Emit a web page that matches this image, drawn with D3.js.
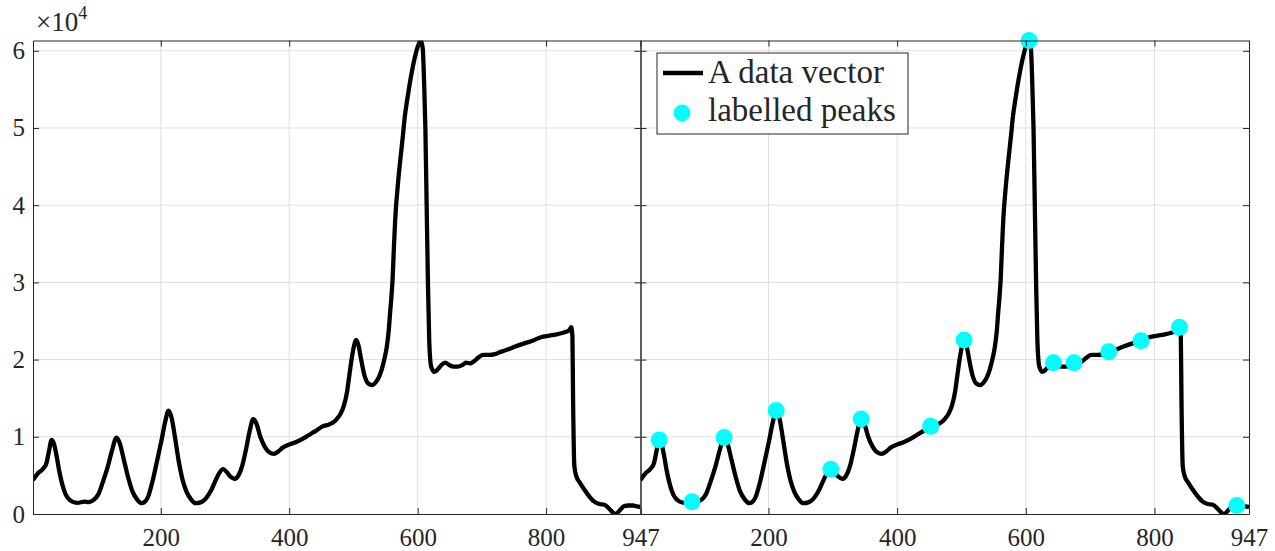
<!DOCTYPE html>
<html>
<head>
<meta charset="utf-8">
<script src="https://cdn.jsdelivr.net/npm/d3@7"></script>
<style>
body { margin: 0; background: #fff; }
text { font-family: "Liberation Serif", "Times New Roman", serif; fill: #262626; }
</style>
</head>
<body>
<script>
// data vector (index, value)
var sampleIndex = [1, 8, 17, 22, 26, 30, 34, 38, 42, 47, 52, 57, 62, 70, 81, 88, 95, 103, 110, 117, 124, 131, 136, 142, 149, 156, 163, 170, 174, 180, 187, 194, 201, 207, 212, 217, 222, 228, 234, 240, 247, 254, 262, 270, 278, 285, 291, 297, 303, 309, 315, 321, 327, 333, 338, 344, 349, 355, 362, 369, 376, 383, 390, 400, 410, 420, 430, 440, 452, 462, 469, 474, 480, 485, 490, 494, 498, 501, 504, 508, 512, 517, 523, 529, 535, 540, 544, 548, 552, 555, 557, 559, 561, 563, 565, 569, 573, 577, 580, 584, 587, 591, 596, 600, 605, 608, 610, 612, 614, 616, 618, 621, 626, 632, 637, 643, 649, 656, 663, 670, 675, 681, 688, 695, 702, 712, 720, 729, 740, 752, 766, 779, 792, 805, 818, 831, 836, 839, 841, 842, 844, 847, 853, 860, 868, 875, 883, 891, 898, 908, 915, 921, 928, 935, 941, 947];
var sampleValue = [4400, 5200, 5900, 6600, 8200, 9600, 9000, 7400, 5500, 3700, 2500, 1900, 1600, 1450, 1600, 1550, 1800, 2600, 4200, 6000, 8200, 9900, 9200, 7200, 4800, 2900, 1900, 1400, 1500, 2200, 4200, 6800, 9500, 12000, 13400, 12400, 10000, 6800, 4400, 2900, 1900, 1400, 1500, 2000, 3000, 4300, 5300, 5800, 5400, 4800, 4550, 5000, 6300, 8500, 10600, 12300, 11700, 10000, 8700, 8000, 7800, 8100, 8600, 9000, 9300, 9700, 10200, 10700, 11350, 11600, 11900, 12300, 13000, 14000, 15800, 18200, 20500, 21800, 22550, 21800, 20000, 18000, 16900, 16700, 17100, 17800, 18700, 20000, 21700, 23800, 26000, 28000, 30500, 34500, 38100, 42500, 45900, 49000, 51500, 53800, 55400, 57300, 59300, 60500, 61330, 60200, 56000, 50000, 40000, 30000, 22500, 19100, 18400, 18800, 19300, 19600, 19300, 19100, 19100, 19300, 19600, 19500, 19800, 20300, 20600, 20600, 20700, 21000, 21300, 21700, 22100, 22450, 22900, 23100, 23300, 23600, 23800, 24200, 23000, 15000, 6200, 4900, 4000, 3100, 2200, 1600, 1300, 1200, 700, 0, 500, 1000, 1100, 1100, 1000, 900];

var peakIndex = [30, 81, 131, 212, 297, 344, 452, 504, 605, 643, 675, 729, 779, 839, 928];
var peakValue = [9600, 1600, 9900, 13400, 5800, 12300, 11350, 22550, 61330, 19600, 19600, 21000, 22450, 24200, 1100];

var xTicks = [200, 400, 600, 800, 947];
var yTicks = [0, 10000, 20000, 30000, 40000, 50000, 60000];
var legendLabels = ["A data vector", "labelled peaks"];

var dataArray = sampleIndex.map(function (d, i) { return { x: d, y: sampleValue[i] }; });
var peakArray = peakIndex.map(function (d, i) { return { x: d, y: peakValue[i] }; });

var svg = d3.select("body").append("svg").attr("width", 1275).attr("height", 551);

var plotTop = 40.5, plotBottom = 514;
var y = d3.scaleLinear().domain(d3.extent(sampleValue)).range([plotBottom, plotTop]);

var panels = [
  { x0: 33, x1: 640.5, yLabels: true, peaks: false },
  { x0: 640.5, x1: 1249, yLabels: false, peaks: true }
];

panels.forEach(function (p, k) {
  var x = d3.scaleLinear().domain([1, 947]).range([p.x0, p.x1]);
  var g = svg.append("g").attr("class", "panel" + k);

  // grid
  g.selectAll("line.vgrid").data(xTicks.slice(0, 4)).enter().append("line")
    .attr("x1", function (d) { return x(d); }).attr("x2", function (d) { return x(d); })
    .attr("y1", plotTop).attr("y2", plotBottom)
    .style("stroke", "#dfdfdf").style("stroke-width", 1);
  g.selectAll("line.hgrid").data(yTicks.slice(1)).enter().append("line")
    .attr("x1", p.x0).attr("x2", p.x1)
    .attr("y1", function (d) { return y(d); }).attr("y2", function (d) { return y(d); })
    .style("stroke", "#dfdfdf").style("stroke-width", 1);

  g.append("clipPath").attr("id", "clip" + k).append("rect")
    .attr("x", p.x0).attr("y", plotTop).attr("width", p.x1 - p.x0).attr("height", plotBottom - plotTop);

  var line = d3.line()
    .x(function (d) { return x(d.x); })
    .y(function (d) { return y(d.y); })
    .curve(d3.curveMonotoneX);

  g.append("path")
    .attr("clip-path", "url(#clip" + k + ")")
    .style("fill", "none")
    .style("stroke", "black")
    .style("stroke-width", "4.3px")
    .style("stroke-linejoin", "round")
    .attr("d", line(dataArray));

  if (p.peaks) {
    g.selectAll("circle.peak").data(peakArray).enter().append("circle")
      .attr("class", "peak")
      .attr("cx", function (d) { return x(d.x); })
      .attr("cy", function (d) { return y(d.y); })
      .attr("r", 8.5)
      .style("fill", "#00ffff");
  }

  // axes, ticks pointing inward
  var bx = g.append("g").attr("transform", "translate(0," + plotBottom + ")")
    .call(d3.axisBottom(x).tickValues(xTicks).tickSizeInner(-6).tickSizeOuter(0).tickPadding(14));
  var tx = g.append("g").attr("transform", "translate(0," + plotTop + ")")
    .call(d3.axisTop(x).tickValues(xTicks).tickSizeInner(-6).tickSizeOuter(0).tickFormat(""));
  var ly = g.append("g").attr("transform", "translate(" + p.x0 + ",0)")
    .call(d3.axisLeft(y).tickValues(yTicks).tickSizeInner(-6).tickSizeOuter(0).tickPadding(8)
      .tickFormat(function (d) { return p.yLabels ? d / 10000 : ""; }));
  var ry = g.append("g").attr("transform", "translate(" + p.x1 + ",0)")
    .call(d3.axisRight(y).tickValues(yTicks).tickSizeInner(-6).tickSizeOuter(0).tickFormat(""));

  [bx, tx, ly, ry].forEach(function (a) {
    a.selectAll("path, line").style("stroke", "#262626").style("stroke-width", 1);
    a.selectAll("text").style("font-size", "25px").style("fill", "#262626")
      .style("font-family", "'Liberation Serif', serif");
  });
});

// exponent label
var expo = svg.append("text").attr("x", 36).attr("y", 31).style("font-size", "27px");
expo.append("tspan").text("\u00d710");
expo.append("tspan").attr("dy", -12).style("font-size", "18px").text("4");

// legend
var legend = svg.append("g").attr("transform", "translate(657,53)");
legend.append("rect").attr("width", 251).attr("height", 81)
  .style("fill", "white").style("stroke", "#262626").style("stroke-width", 1);
legend.append("line").attr("x1", 6).attr("x2", 46).attr("y1", 20).attr("y2", 20)
  .style("stroke", "black").style("stroke-width", "4.3px");
legend.append("circle").attr("cx", 25).attr("cy", 60).attr("r", 8.5).style("fill", "#00ffff");
legend.selectAll("text.leg").data(legendLabels).enter().append("text")
  .attr("class", "leg")
  .attr("x", 51)
  .attr("y", function (d, i) { return 30 + i * 38; })
  .style("font-size", "33px")
  .text(function (d) { return d; });
</script>
</body>
</html>
